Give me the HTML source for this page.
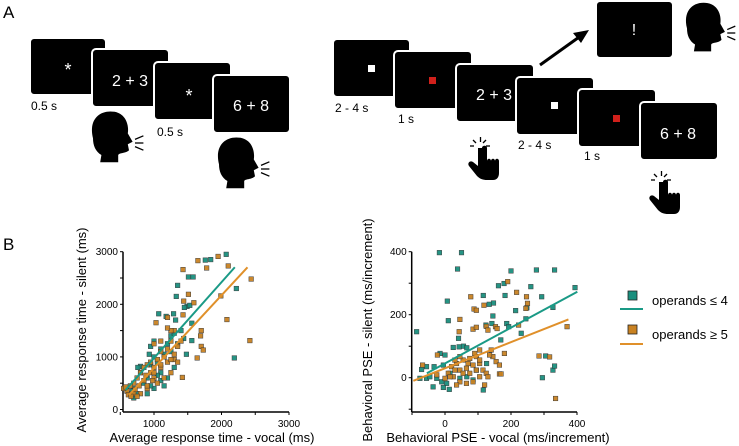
<!DOCTYPE html>
<html><head><meta charset="utf-8"><style>
html,body{margin:0;padding:0;background:#fff;}
svg{display:block;font-family:"Liberation Sans",Arial,sans-serif;}
</style></head><body>
<svg id="fig" width="739" height="446" viewBox="0 0 739 446" xmlns="http://www.w3.org/2000/svg">
<g id="panelA">
<text x="3" y="18" font-size="17">A</text>
<g fill="#000" stroke="#fff" stroke-width="2">
<rect x="30" y="38" width="76" height="57" rx="4"/>
<rect x="92" y="49" width="77" height="58" rx="4"/>
<rect x="154" y="62" width="77" height="58" rx="4"/>
<rect x="213" y="75" width="77" height="58" rx="4"/>
<rect x="333" y="39" width="77" height="58" rx="4"/>
<rect x="394" y="51" width="78" height="58" rx="4"/>
<rect x="456" y="64" width="78" height="58" rx="4"/>
<rect x="516" y="77" width="78" height="58" rx="4"/>
<rect x="578" y="89" width="78" height="58" rx="4"/>
<rect x="640" y="102" width="78" height="58" rx="4"/>
<rect x="596" y="1" width="77" height="57" rx="4"/>
</g>
<g fill="#fff" font-size="16">
<text x="68" y="76" text-anchor="middle" font-size="18">*</text>
<text x="130" y="86" text-anchor="middle">2 + 3</text>
<text x="189" y="102" text-anchor="middle" font-size="18">*</text>
<text x="251" y="111" text-anchor="middle">6 + 8</text>
<text x="494" y="100" text-anchor="middle">2 + 3</text>
<text x="678" y="139" text-anchor="middle">6 + 8</text>
<text x="634" y="35" text-anchor="middle">!</text>
</g>
<rect x="368" y="65" width="7" height="7" fill="#fff"/>
<rect x="429" y="77" width="7" height="7" fill="#d0201b"/>
<rect x="551" y="102" width="7" height="7" fill="#fff"/>
<rect x="613" y="115" width="7" height="7" fill="#d0201b"/>
<g font-size="12" fill="#000">
<text x="31" y="110">0.5 s</text>
<text x="157" y="136">0.5 s</text>
<text x="335" y="112">2 - 4 s</text>
<text x="398" y="123">1 s</text>
<text x="518" y="149">2 - 4 s</text>
<text x="584" y="160">1 s</text>
</g>
<line x1="540" y1="65" x2="582" y2="35" stroke="#000" stroke-width="3"/>
<polygon points="589,30 573,33 581,43" fill="#000"/>
<g id="heads" fill="#000"></g>
<g id="hands" fill="#000"></g>
<text x="3" y="250" font-size="17">B</text>
</g>
<g id="chart1"></g>
<g id="chart2"></g>
<g id="legend">
<rect x="628" y="291" width="9" height="9" fill="#1a8f7e" stroke="#222" stroke-width="0.8"/>
<line x1="620" y1="309" x2="643" y2="309" stroke="#1a9a86" stroke-width="2"/>
<text x="652" y="305" font-size="13">operands ≤ 4</text>
<rect x="628" y="325" width="9" height="9" fill="#c98222" stroke="#222" stroke-width="0.8"/>
<line x1="620" y1="344" x2="643" y2="344" stroke="#e0902a" stroke-width="2"/>
<text x="652" y="339" font-size="13">operands ≥ 5</text>
</g>
</svg>
<script>
const NS='http://www.w3.org/2000/svg';
// ---- chart 1 data (ms) ----
const rtSmallX=[2070,1760,1840,1510,1580,1350,1330,1490,1450,1530,1560,1070,1180,1290,2220,2190,1560,1480,1440,1320,1000,950,930,1100,1200,1250,1300,800,760,1000,1050,1100,1200,900,850,700,750,700,650,600,900,1000,1150,800,950,1250,1350,1400,1150,1050,600,680,950,1100,1300];
const rtSmallY=[2950,2840,2850,2520,2520,2360,2150,1960,1940,1980,1640,1820,1770,1820,2300,980,1310,1050,1350,1700,1300,1200,1050,1150,1250,1400,1450,820,800,1000,900,700,600,600,500,400,300,220,300,400,300,400,450,700,850,1100,1250,1500,1050,650,350,350,450,550,800];
const rtLargeX=[1650,1950,2100,1780,1430,2440,1990,2080,2420,1440,1510,1590,1430,1030,1200,1700,1690,1700,1730,1640,1420,1300,1250,1200,1350,1250,1000,1100,950,900,850,800,750,700,650,600,550,800,900,1000,1100,1200,1300,1250,1150,1050,950,850,700,750,620,580,900,1000,1150,1350,1300,1400,1250,1050,980,880,780,720,660,1100,1200,1100,1000];
const rtLargeY=[2830,2910,2730,2690,2660,2480,2160,1710,1310,2060,2190,2030,1800,1650,1750,1500,1400,1200,1130,980,610,1500,1500,1550,1200,1300,1250,1100,900,850,800,700,600,500,450,350,400,300,400,600,800,900,950,700,600,500,700,550,300,250,280,430,450,800,1000,900,1050,1300,950,950,550,650,450,380,250,850,1150,1300,700];
const rtFitSmall=[[579,371],[2197,2704]];
const rtFitLarge=[[630,276],[2385,2704]];
const rtTicksX=[1000,2000,3000];
const rtTicksY=[0,1000,2000,3000];
// ---- chart 2 data (ms/increment) ----
const pseSmallX=[-17,50,38,200,277,332,162,179,260,394,-86,7,10,116,134,147,182,214,231,245,248,293,327,145,142,124,187,193,169,41,43,56,66,25,-15,0,-33,-5,-71,-56,-46,-25,-10,5,-36,-5,13,85,116,295,327,332,305,-76,45,66,95,126,-56,15];
const pseSmallY=[397,397,345,339,342,342,292,299,289,286,146,243,181,261,233,237,261,213,141,187,222,257,223,196,172,167,172,162,120,125,98,100,95,96,77,72,35,40,26,-2,3,-2,-13,-18,-29,-31,-37,-7,-39,0,24,37,69,-2,-2,3,24,45,35,14];
const pseLargeX=[190,217,247,250,245,78,88,95,118,45,43,85,95,125,130,153,158,223,165,170,120,335,370,285,317,-68,-23,145,155,165,140,105,95,75,55,35,20,10,25,45,65,85,105,115,105,85,65,45,35,15,0,75,55,95,125,130,135,90,70,45,30,105,30,180,-25];
const pseLargeY=[305,271,257,236,220,257,218,214,230,185,146,154,160,163,151,162,156,167,12,12,-23,-66,162,69,66,40,72,67,51,40,88,88,67,61,56,45,35,14,3,24,30,40,45,24,3,-13,-18,-13,-23,3,-2,14,14,24,14,3,72,77,45,67,56,56,24,77,9];
const pseFitSmall=[[-55,14],[401,273]];
const pseFitLarge=[[-96,-10],[374,185]];
const pseTicksX=[0,200,400];
const pseTicksY=[0,200,400];

function el(tag,attrs,parent){const e=document.createElementNS(NS,tag);for(const k in attrs)e.setAttribute(k,attrs[k]);parent.appendChild(e);return e;}

function drawChart(g,cfg){
  const sx=v=>cfg.x0px+(v-cfg.xmin)/(cfg.xmax-cfg.xmin)*(cfg.x1px-cfg.x0px);
  const sy=v=>cfg.y0px-(v-cfg.ymin)/(cfg.ymax-cfg.ymin)*(cfg.y0px-cfg.y1px);
  const ax=el('line',{x1:cfg.axisX,y1:cfg.axisY,x2:sx(cfg.xend),y2:cfg.axisY,stroke:'#000','stroke-width':1.5},g);
  
  
  const ay=el('line',{x1:cfg.axisX,y1:cfg.axisY,x2:cfg.axisX,y2:sy(cfg.yend),stroke:'#000','stroke-width':1.5},g);
  
  
  for(let v=cfg.xstart;v<=cfg.xend+1e-9;v+=cfg.xminor){
    const t=el('line',{x1:sx(v),x2:sx(v),y1:cfg.axisY,y2:cfg.axisY+3,stroke:'#000','stroke-width':1},g);
    
    
  }
  for(let v=cfg.ystart;v<=cfg.yend+1e-9;v+=cfg.yminor){
    const t=el('line',{x1:cfg.axisX-3,x2:cfg.axisX,y1:sy(v),y2:sy(v),stroke:'#000','stroke-width':1},g);
    
    
  }
  cfg.ticksX.forEach(v=>{const t=el('text',{x:sx(v),y:cfg.axisY+15,'font-size':10,'text-anchor':'middle'},g);t.textContent=v;
    
    });
  cfg.ticksY.forEach(v=>{const t=el('text',{x:cfg.axisX-5,y:sy(v)+3.5,'font-size':10,'text-anchor':'end'},g);t.textContent=v;
    
    });
  const series=[[cfg.sx1,cfg.sy1,'#1a8f7e'],[cfg.sx2,cfg.sy2,'#c98222']];
  series.forEach(([xs,ys,c],si)=>{
    xs.forEach((x,i)=>{const r=el('rect',{x:sx(x)-2.3,y:sy(ys[i])-2.3,width:4.6,height:4.6,fill:c,stroke:'#333','stroke-width':0.5,opacity:0.95},g);
      
      });
  });
  [[cfg.fit1,'#1a9a86','fit-line-small-operands'],[cfg.fit2,'#e0902a','fit-line-large-operands']].forEach(([f,c,n])=>{
    const l=el('line',{x1:sx(f[0][0]),y1:sy(f[0][1]),x2:sx(f[1][0]),y2:sy(f[1][1]),stroke:c,'stroke-width':2},g);
    
    
  });
  const xt=el('text',{x:cfg.xtx,y:cfg.xty,'font-size':13,'text-anchor':'middle'},g);xt.textContent=cfg.xtitle;
  
  
  const yt=el('text',{x:0,y:0,'font-size':13,'text-anchor':'middle',transform:`translate(${cfg.ytx},${cfg.yty}) rotate(-90)`},g);yt.textContent=cfg.ytitle;
  
  
}

drawChart(document.getElementById('chart1'),{xmin:1000,xmax:2000,x0px:154,x1px:221.5,ymin:0,ymax:3000,y0px:409.5,y1px:251.7,
  axisX:123,axisY:412,xstart:500,xend:3000,xminor:500,ystart:0,yend:3000,yminor:500,
  ticksX:rtTicksX,ticksY:rtTicksY,sx1:rtSmallX,sy1:rtSmallY,sx2:rtLargeX,sy2:rtLargeY,fit1:rtFitSmall,fit2:rtFitLarge,
  xtitle:'Average response time - vocal (ms)',xtx:212,xty:442,ytitle:'Average response time - silent (ms)',ytx:86,yty:330});
drawChart(document.getElementById('chart2'),{xmin:0,xmax:200,x0px:445,x1px:511,ymin:0,ymax:400,y0px:377.7,y1px:251.7,
  axisX:411.7,axisY:412,xstart:-100,xend:400,xminor:100,ystart:-100,yend:400,yminor:100,
  ticksX:pseTicksX,ticksY:pseTicksY,sx1:pseSmallX,sy1:pseSmallY,sx2:pseLargeX,sy2:pseLargeY,fit1:pseFitSmall,fit2:pseFitLarge,
  xtitle:'Behavioral PSE - vocal (ms/increment)',xtx:498,xty:442,ytitle:'Behavioral PSE - silent (ms/increment)',ytx:372,yty:330});

// icons
function head(x,y,s,name){
  const g=document.getElementById('heads');
  const p=el('path',{d:`M${x},${y+16*s} C${x-4*s},${y} ${x+6*s},${y-8*s} ${x+18*s},${y-6*s} C${x+28*s},${y-4*s} ${x+30*s},${y+6*s} ${x+29*s},${y+12*s} L${x+33*s},${y+19*s} L${x+29*s},${y+21*s} L${x+30*s},${y+26*s} C${x+27*s},${y+29*s} ${x+22*s},${y+28*s} ${x+21*s},${y+30*s} L${x+21*s},${y+36*s} L${x+6*s},${y+36*s} L${x+7*s},${y+30*s} C${x+2*s},${y+27*s} ${x},${y+22*s} ${x},${y+16*s}Z`},g);
  
  
  [[-3,0],[0,0],[3,0]].forEach((d,i)=>{el('line',{x1:x+35*s,y1:y+(20+d[0])*s,x2:x+42*s,y2:y+(20+d[0]*2)*s,stroke:'#000','stroke-width':1.3},g);});
}
head(93,119,1.2,'speaking-head-1');
head(219,145,1.2,'speaking-head-2');
head(687,10,1.15,'speaking-head-3');
function hand(x,y,name){
  const g=document.getElementById('hands');
  const p=el('path',{d:`M${x},${y} l0,18 l-5,-4 c-3,-2 -6,1 -4,4 l8,10 c3,3 6,4 10,4 l6,0 c4,0 6,-3 6,-7 l0,-12 c0,-3 -4,-3 -4,0 c0,-3 -4,-3 -4,0 c0,-3 -4,-3 -4,0 l0,-13 c0,-3 -5,-3 -5,0z`},g);
  
  
  [[-8,-2,-4,-2],[8,-2,12,-2],[-5,-8,-2,-5],[8,-8,5,-5],[2.5,-11,2.5,-6]].forEach(l=>el('line',{x1:x+l[0],y1:y+l[1],x2:x+l[2],y2:y+l[3],stroke:'#000','stroke-width':1.3},g));
}
hand(478,148,'press-hand-1');
hand(659,182,'press-hand-2');
</script>
</body></html>
